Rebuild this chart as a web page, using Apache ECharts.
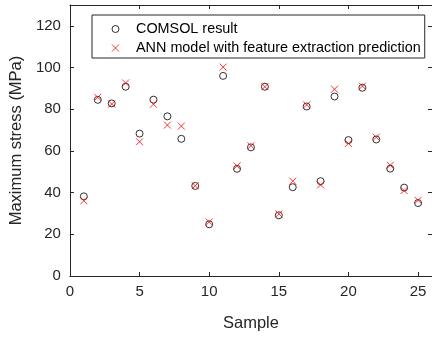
<!DOCTYPE html>
<html>
<head>
<meta charset="utf-8">
<script src="https://cdn.jsdelivr.net/npm/echarts@6/dist/echarts.min.js"></script>
<style>html,body{margin:0;padding:0;background:#fff}#c{width:432px;height:337px}</style>
</head>
<body>
<div id="c"></div>
<script>
const samples = [1,2,3,4,5,6,7,8,9,10,11,12,13,14,15,16,17,18,19,20,21,22,23,24,25];
const comsol = [38.2,84.5,82.8,90.8,68.3,84.6,76.6,65.8,43.2,24.8,96.0,51.4,61.7,90.8,29.1,42.6,81.3,45.5,86.1,65.2,90.3,65.5,51.5,42.4,35.0];
const ann = [36.1,85.7,82.5,92.6,64.4,82.4,72.4,71.9,43.3,25.9,100.2,52.8,62.5,90.8,29.8,45.5,82.1,43.7,89.6,63.6,91.1,66.6,53.1,41.0,36.3];
const xTicks = [0,5,10,15,20,25];
const yTicks = [0,20,40,60,80,100,120];
const legendNames = ['COMSOL result','ANN model with feature extraction prediction'];

const FONT = '"Liberation Sans", Arial, Helvetica, sans-serif';
const AX = '#262626';
const chart = echarts.init(document.getElementById('c'), null, {renderer:'canvas'});
const pair = (ys) => samples.map((s,i)=>[s, ys[i]]);
const baseAxis = {
  axisLine:{show:true, onZero:false, lineStyle:{color:AX, width:1}},
  axisTick:{show:true, inside:true, length:4, lineStyle:{color:AX, width:1}},
  splitLine:{show:false}
};
chart.setOption({
  animation:false,
  backgroundColor:'#fff',
  grid:{left:69, top:5, width:366, height:276, containLabel:false},
  legend:{
    data:[
      {name:legendNames[0], itemStyle:{color:'rgba(0,0,0,0)', borderColor:'#000', borderWidth:1}},
      {name:legendNames[1], itemStyle:{color:'rgba(0,0,0,0)', borderColor:'#ff0000', borderWidth:1}}
    ],
    orient:'vertical', left:92, top:15, selectedMode:false,
    itemWidth:7, itemHeight:7, itemGap:0,
    padding:[4.5,4,0.5,19.5],
    borderColor:AX, borderWidth:1, backgroundColor:'#fff',
    textStyle:{fontFamily:FONT, fontSize:14.4, color:'#000', lineHeight:19, padding:[0,0,0,12]}
  },
  xAxis:[
    Object.assign({}, baseAxis, {type:'value', position:'bottom', min:0, max:26, interval:5,
      name:'Sample', nameLocation:'middle', nameGap:39,
      nameTextStyle:{fontFamily:FONT, fontSize:16.5, color:AX},
      axisLabel:{fontFamily:FONT, fontSize:15, color:AX, margin:8, showMaxLabel:false,
        formatter:v=> xTicks.indexOf(v)>=0 ? String(v) : ''}}),
    Object.assign({}, baseAxis, {type:'value', position:'top', min:0, max:26, interval:5, axisLabel:{show:false}})
  ],
  yAxis:[
    Object.assign({}, baseAxis, {type:'value', position:'left', min:0, max:130, interval:20,
      name:'Maximum stress (MPa)', nameLocation:'middle', nameGap:35,
      nameTextStyle:{fontFamily:FONT, fontSize:16.5, color:AX},
      axisLabel:{fontFamily:FONT, fontSize:15, color:AX, margin:9, showMaxLabel:false,
        formatter:v=> yTicks.indexOf(v)>=0 ? String(v) : ''}}),
    Object.assign({}, baseAxis, {type:'value', position:'right', min:0, max:130, interval:20, axisLabel:{show:false}})
  ],
  series:[
    {name:legendNames[0], type:'scatter', data:pair(comsol), symbol:'circle', symbolSize:7,
      itemStyle:{color:'rgba(0,0,0,0)', borderColor:'#000', borderWidth:1}},
    {name:legendNames[1], type:'scatter', data:pair(ann), symbol:'path://M0,0L10,10M10,0L0,10', symbolSize:7,
      itemStyle:{color:'rgba(0,0,0,0)', borderColor:'#ff0000', borderWidth:1}}
  ]
});
</script>
</body>
</html>
